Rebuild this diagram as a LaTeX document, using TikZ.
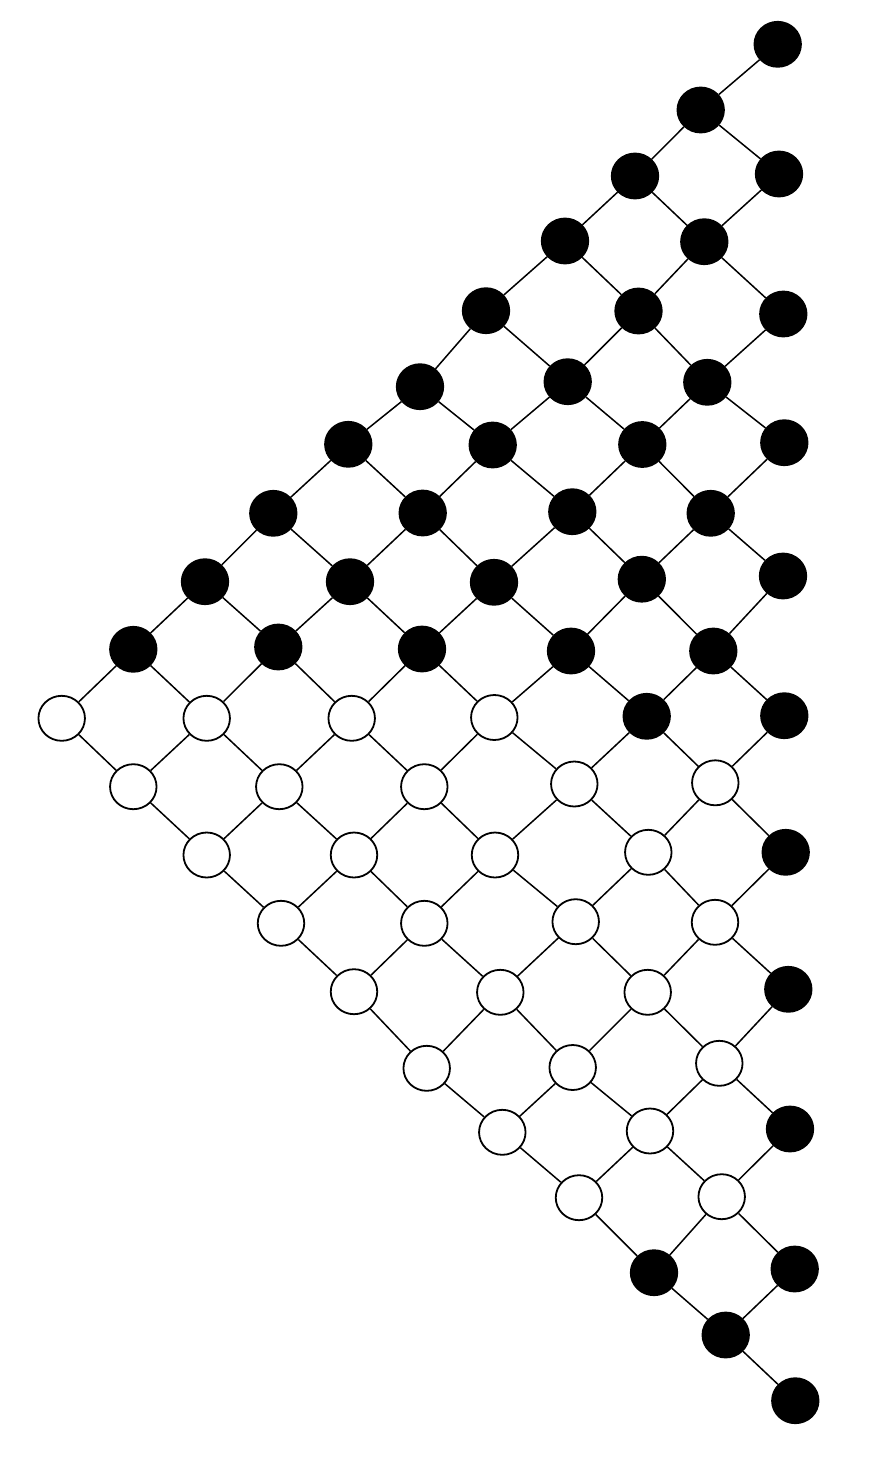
\documentclass[tikz,border=0pt]{standalone}
\usetikzlibrary{shapes.geometric}
\begin{document}
\begin{tikzpicture}[x=1pt,y=-1pt,
  dot/.style={ellipse, minimum width=46.5pt, minimum height=45pt, inner sep=0pt, draw=black, line width=1.8pt},
  edge/.style={line width=1.5pt, draw=black}]
\useasboundingbox (0,0) rectangle (886,1459);
\foreach \c/\r/\x/\y/\f in {
 10/0/777.7/44.3/black,
 9/1/700.7/110/black,
 8/2/635/176/black, 10/2/779/174/black,
 7/3/565/241/black, 9/3/704.3/241.7/black,
 6/4/486/310.7/black, 8/4/638.5/311/black, 10/4/783.3/314/black,
 5/5/420/386.7/black, 7/5/567.7/381.7/black, 9/5/707.3/382.3/black,
 4/6/348.3/444.3/black, 6/6/492.7/445/black, 8/6/642.3/444.5/black, 10/6/784.3/442.7/black,
 3/7/273.3/513.3/black, 5/7/422.7/513/black, 7/7/572.3/511.7/black, 9/7/710.7/513.3/black,
 2/8/205/581.7/black, 4/8/350/581.7/black, 6/8/494/582.3/black, 8/8/641.8/579.2/black, 10/8/783/576/black,
 1/9/133.3/649.3/black, 3/9/278.3/647/black, 5/9/422/649/black, 7/9/571/651/black, 9/9/713.3/651/black,
 0/10/61.7/718.3/white, 2/10/206.7/718.3/white, 4/10/351.7/718.3/white, 6/10/494.3/717.5/white, 8/10/646.7/716.3/black, 10/10/784.3/715.7/black,
 1/11/133.3/786.7/white, 3/11/279.3/786.7/white, 5/11/424.3/786.7/white, 7/11/574.3/784/white, 9/11/715.3/782.8/white,
 2/12/206.7/855/white, 4/12/354/855/white, 6/12/495/855/white, 8/12/648.3/852.3/white, 10/12/785.7/852.3/black,
 3/13/281/923.3/white, 5/13/424.3/923.3/white, 7/13/575.7/921.7/white, 9/13/715/922.3/white,
 4/14/354/991.7/white, 6/14/500.3/992.3/white, 8/14/647.7/992.3/white, 10/14/788.3/989.3/black,
 5/15/426.7/1068.3/white, 7/15/572.7/1067.5/white, 9/15/719.3/1063.3/white,
 6/16/502.3/1132.3/white, 8/16/650/1131/white, 10/16/790/1129/black,
 7/17/579/1197.7/white, 9/17/721.7/1196.7/white,
 8/18/654/1272.7/black, 10/18/794.7/1269/black,
 9/19/725.7/1335/black,
 10/20/795.3/1400.7/black}
 \node[dot, fill=\f] (n\c-\r) at (\x,\y) {};
\foreach \r in {0,...,19}{
  \foreach \c in {0,...,10}{
    \pgfmathtruncatemacro\ishere{and(\c>=abs(10-\r), iseven(\c+\r))}
    \pgfmathtruncatemacro\rnext{\r+1}
    \pgfmathtruncatemacro\cleft{\c-1}
    \pgfmathtruncatemacro\cright{\c+1}
    \pgfmathtruncatemacro\edl{and(\ishere, \cleft>=abs(9-\r))}
    \pgfmathtruncatemacro\edr{and(\ishere, and(\cright<=10, \cright>=abs(9-\r)))}
    \ifnum\edl=1 \draw[edge] (n\c-\r) -- (n\cleft-\rnext); \fi
    \ifnum\edr=1 \draw[edge] (n\c-\r) -- (n\cright-\rnext); \fi
  }
}
\end{tikzpicture}
\end{document}
